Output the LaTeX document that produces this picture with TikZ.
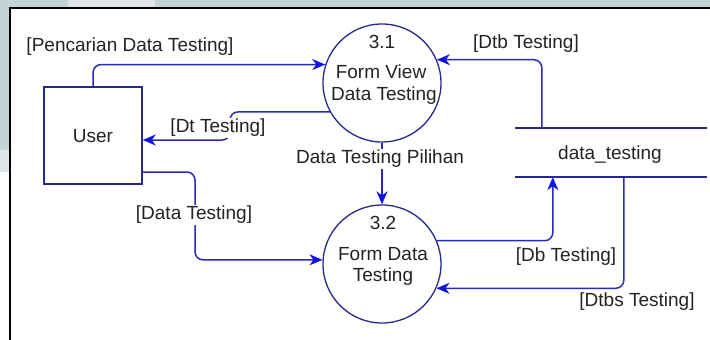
\documentclass[tikz,border=0pt]{standalone}
\usepackage{fontspec}
\setmainfont{Liberation Sans}
\usetikzlibrary{arrows.meta,calc}
\definecolor{bandgray}{RGB}{196,210,217}
\definecolor{bandlight}{RGB}{222,230,234}
\definecolor{flowblue}{RGB}{42,42,185}
\definecolor{tipblue}{RGB}{18,18,235}
\definecolor{shapenavy}{RGB}{40,40,140}
\definecolor{textgray}{RGB}{35,35,35}
\tikzset{
  txt/.style={font=\fontsize{19}{22}\selectfont, text=textgray, inner sep=1pt},
  procbox/.style={circle, draw=shapenavy, line width=1.3pt, minimum size=118pt, inner sep=0pt},
  entitybox/.style={rectangle, draw=shapenavy, line width=1.5pt, minimum width=98pt, minimum height=97pt, inner sep=0pt},
  storebox/.style={rectangle, minimum width=192pt, minimum height=49pt, inner sep=0pt},
  storeline/.style={draw=shapenavy, line width=1.5pt},
  flow/.style={draw=flowblue, line width=1.5pt, rounded corners=8pt,
    -{Stealth[length=13pt,width=11pt,inset=4pt,color=tipblue]}},
  flowlabel/.style={txt, fill=white}
}
\begin{document}
\begin{tikzpicture}[x=1pt,y=-1pt]
\useasboundingbox (0,0) rectangle (710,340);
% window background and frame
\fill[bandgray] (0,0) rectangle (710,8);
\fill[bandlight] (68,0) rectangle (155,8);
\fill[bandgray] (0,0) rectangle (10,150);
\fill[bandlight] (0,150) rectangle (10,172);
\fill[white!95!bandgray] (0,172) rectangle (10,340);
\fill[white] (10,8) rectangle (710,340);
\draw[black, line width=2pt] (10,340) -- (10,8) -- (710,8);

% entity, processes and data store
\node[entitybox] (user) at (93,135.5) {};
\node[txt] (userlbl) at (93,136) {User};

\node[procbox] (p31) at (382,83) {};
\node[txt] (p31num) at (382,42) {3.1};
\node[txt] (p31a) at (381,72) {Form View};
\node[txt] (p31b) at (384,96) {Data Testing};

\node[procbox] (p32) at (382,264) {};
\node[txt] (p32num) at (383,223) {3.2};
\node[txt] (p32a) at (383,254) {Form Data};
\node[txt] (p32b) at (383,277) {Testing};

\node[storebox] (store) at (611,152.5) {};
\draw[storeline] (store.north west) -- (store.north east);
\draw[storeline] (store.south west) -- (store.south east);
\node[txt] (storelbl) at (610,155) {data\_testing};

% data flows
\draw[flow] (user.north) |- (p31.162);
\node[txt] (l1) at (130,47) {[Pencarian Data Testing]};

\draw[flow] (p31.209) -| (230,126) |- ([yshift=-4.5pt]user.east);
\node[flowlabel] (l2) at (218,128) {[Dt Testing]};

\draw[flow] (p31.south) -- (p32.north);
\node[flowlabel] (l3) at (380,159) {Data Testing Pilihan};

\draw[flow] ([yshift=-36.5pt]user.east) -| (195,215) |- (p32.176);
\node[flowlabel] (l4) at (194,215) {[Data Testing]};

\draw[flow] ([xshift=27pt]store.north west) |- (p31.23);
\node[txt] (l5) at (526,44) {[Dtb Testing]};

\draw[flow] (p32.23) -| ([xshift=38pt]store.south west);
\node[txt] (l6) at (566,257) {[Db Testing]};

\draw[flow] ([xshift=109pt]store.south west) |- (p32.336);
\node[txt] (l7) at (637,302) {[Dtbs Testing]};
\end{tikzpicture}
\end{document}
